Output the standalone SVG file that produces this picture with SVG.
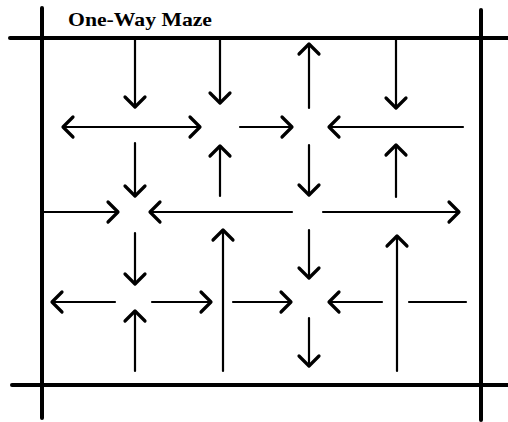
<svg xmlns="http://www.w3.org/2000/svg" width="508" height="422" viewBox="0 0 508 422">
<style>
.frame{stroke:#000;stroke-width:4;stroke-linecap:round;fill:none}
.c line{stroke:#000;stroke-width:2.2;stroke-linecap:round;fill:none}
.a{marker-end:url(#ah)}
.d{marker-start:url(#ah);marker-end:url(#ah)}
.title{font-family:"Liberation Serif","Times New Roman",serif;font-weight:bold;font-size:19px;fill:#000}
</style>
<defs>
<marker id="ah" markerUnits="userSpaceOnUse" viewBox="-14 -14 18 28" markerWidth="18" markerHeight="28" refX="0" refY="0" orient="auto-start-reverse">
<path d="M-10,-10 L0,0 L-10,10" fill="none" stroke="#000" stroke-width="3.2" stroke-linecap="round" stroke-linejoin="round"/>
</marker>
</defs>
<rect width="508" height="422" fill="#fff"/>
<g id="frame" class="frame">
<line x1="10" y1="38" x2="508" y2="38"/>
<line x1="12" y1="385" x2="508" y2="385"/>
<line x1="42" y1="8" x2="42" y2="418"/>
<line x1="481" y1="10" x2="481" y2="420"/>
</g>
<g id="title"><text class="title" x="68" y="26" textLength="144" lengthAdjust="spacingAndGlyphs">One-Way Maze</text></g>
<g id="connectors" class="c">
<line class="d" x1="63" y1="127" x2="200" y2="127"/>
<line class="a" x1="135" y1="38" x2="135" y2="107"/>
<line class="a" x1="220" y1="38" x2="220" y2="103"/>
<line class="a" x1="240" y1="127" x2="292" y2="127"/>
<line class="a" x1="309" y1="108" x2="309" y2="44"/>
<line class="a" x1="396" y1="38" x2="396" y2="108"/>
<line class="a" x1="463" y1="127" x2="329" y2="127"/>
<line class="a" x1="220" y1="196" x2="220" y2="146"/>
<line class="a" x1="135" y1="143" x2="135" y2="196"/>
<line class="a" x1="309" y1="145" x2="309" y2="195"/>
<line class="a" x1="396" y1="197" x2="396" y2="145"/>
<line class="a" x1="42" y1="212" x2="118" y2="212"/>
<line class="a" x1="292" y1="212" x2="150" y2="212"/>
<line class="a" x1="323" y1="212" x2="459" y2="212"/>
<line class="a" x1="223" y1="371" x2="223" y2="230"/>
<line class="a" x1="309" y1="230" x2="309" y2="278"/>
<line class="a" x1="135" y1="233" x2="135" y2="284"/>
<line class="a" x1="115" y1="302" x2="52" y2="302"/>
<line class="a" x1="152" y1="302" x2="211" y2="302"/>
<line class="a" x1="135" y1="371" x2="135" y2="311"/>
<line class="a" x1="233" y1="302" x2="291" y2="302"/>
<line class="a" x1="382" y1="302" x2="329" y2="302"/>
<line class="a" x1="397" y1="371" x2="397" y2="236"/>
<line x1="409" y1="302" x2="466" y2="302"/>
<line class="a" x1="309" y1="318" x2="309" y2="366"/>
</g>
</svg>
